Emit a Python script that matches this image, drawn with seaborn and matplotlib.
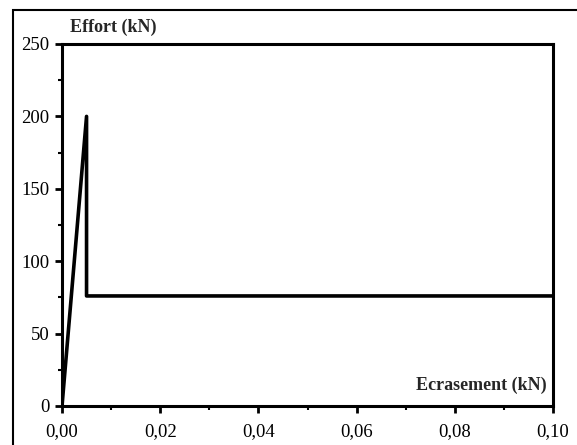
import matplotlib
matplotlib.use("Agg")
import matplotlib.pyplot as plt
import seaborn as sns
import pandas as pd
from matplotlib.ticker import MultipleLocator, FuncFormatter
from matplotlib.patches import Rectangle

sns.set_style("ticks")
plt.rcParams['font.family'] = ['Liberation Serif', 'DejaVu Serif']

ecrasement = [0.0, 0.005, 0.005, 0.1]
effort = [0.0, 200.0, 76.0, 76.0]
df = pd.DataFrame({"x": ecrasement, "y": effort})

fig = plt.figure(figsize=(5.77, 4.45), dpi=100)
ax = fig.add_axes([62/577, 1-406/445, (553-62)/577, (406-44)/445])

sns.lineplot(data=df, x="x", y="y", sort=False, estimator=None, ax=ax, color="black", lw=2.6)

ax.set_xlim(0, 0.1)
ax.set_ylim(0, 250)
ax.xaxis.set_major_locator(MultipleLocator(0.02))
ax.xaxis.set_minor_locator(MultipleLocator(0.01))
ax.yaxis.set_major_locator(MultipleLocator(50))
ax.yaxis.set_minor_locator(MultipleLocator(25))
ax.xaxis.set_major_formatter(FuncFormatter(lambda v, p: f"{v:.2f}".replace(".", ",")))
ax.yaxis.set_major_formatter(FuncFormatter(lambda v, p: f"{v:.0f}"))
ax.tick_params(which="major", length=5, width=2, labelsize=13.5, colors="black")
ax.tick_params(axis="y", which="major", pad=4)
ax.tick_params(axis="x", which="major", pad=7)
ax.tick_params(which="minor", length=3, width=1.5, colors="black")
ax.set_xlabel("")
ax.set_ylabel("")
for s in ax.spines.values():
    s.set_visible(True)
    s.set_linewidth(2.2)
    s.set_color("black")

fig.text(70/577, 1-27/445, "Effort (kN)", fontsize=13, fontweight="bold", ha="left", va="center")
ax.text(0.987, 0.058, "Ecrasement (kN)", transform=ax.transAxes, fontsize=13,
        fontweight="bold", ha="right", va="center")

fig.patches.append(Rectangle((13/577, -0.1), 1.2, 1.1 - 10/445, transform=fig.transFigure,
                             fill=False, lw=1.5, edgecolor="black"))

fig.savefig("out.png", dpi=100)
